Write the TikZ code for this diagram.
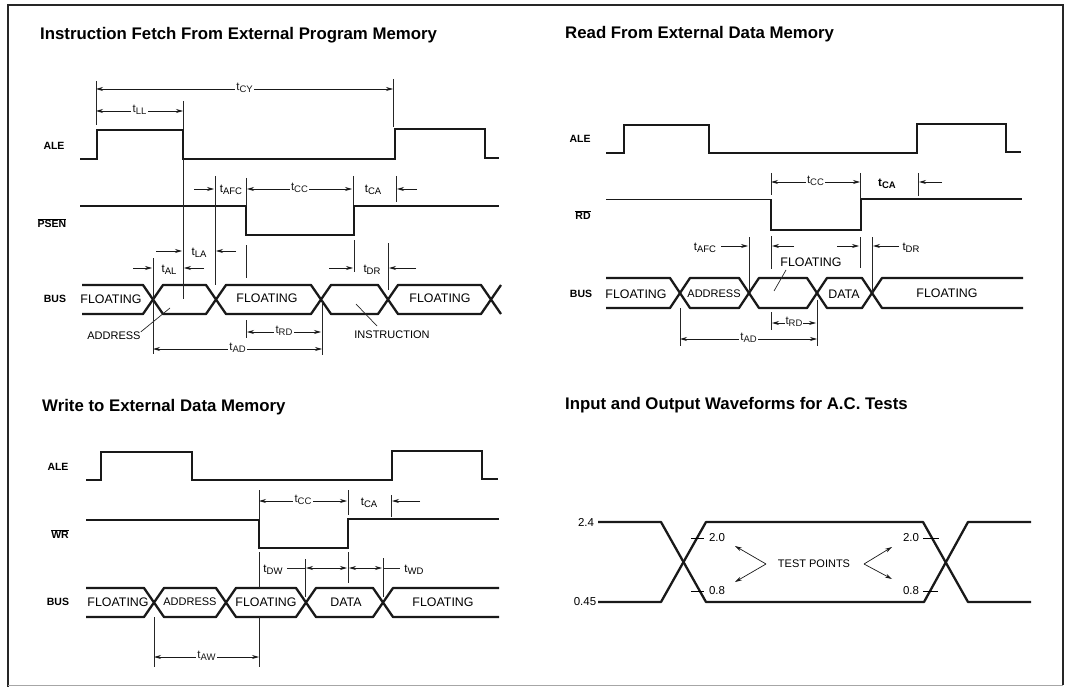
\documentclass[tikz,border=0pt]{standalone}
\usepackage{fontspec}
\setmainfont{Liberation Sans}
\usepackage{xcolor}
\usetikzlibrary{arrows.meta}
\newcommand{\tsub}[1]{t\raisebox{-2.5pt}{\fontsize{9.5}{10}\selectfont #1}}
\newcommand{\barsig}[1]{$\overline{\mbox{#1}}$}

\begin{document}
\begin{tikzpicture}[
    x=1pt, y=-1pt,
    font=\fontsize{11.5}{12}\selectfont,
    >={Stealth[length=7pt,width=4pt]},
    frameline/.style={line width=1.8pt, color=black!85},
    wave/.style={line width=1.9pt, color=black!90},
    buswave/.style={line width=2.3pt, color=black!90, line join=round},
    tick/.style={line width=0.7pt, color=black!85},
    dim/.style={<->, line width=0.7pt, color=black!90},
    stub/.style={->, line width=0.7pt, color=black!90},
    lead/.style={line width=0.7pt, color=black!85},
    title/.style={font=\fontsize{16.8}{18}\selectfont\bfseries, anchor=west, inner sep=0pt},
    signal/.style={font=\fontsize{10.5}{12}\selectfont\bfseries, inner sep=0pt},
    buslabel/.style={font=\fontsize{12.4}{13}\selectfont, inner sep=0pt},
    addrlabel/.style={font=\fontsize{11}{12}\selectfont, inner sep=0pt},
    tlabel/.style={fill=white, inner sep=1.5pt, yshift=1pt},
    tnote/.style={inner sep=0pt}
]
\useasboundingbox (0,0) rectangle (1068,687);

% Frame
\draw[frameline] (8,687) -- (8,5) -- (1063,5) -- (1063,685);
\draw[line width=0.5pt, color=black!35] (8,685) -- (1063,685);

% Titles
\node[title] (titlefetch) at (40,35) {Instruction Fetch From External Program Memory};
\node[title] (titleread) at (565,34) {Read From External Data Memory};
\node[title] (titlewrite) at (42,407) {Write to External Data Memory};
\node[title] (titletests) at (565,405) {Input and Output Waveforms for A.C. Tests};

% Instruction fetch: waveforms
\draw[wave] (80,159) -- (97,159) -- (97,130) -- (183,130) -- (183,159) -- (395,159) -- (395,129) -- (485,129) -- (485,158) -- (499,158);
\draw[wave] (80,206) -- (246,206) -- (246,235) -- (354,235) -- (354,206) -- (499,206);
\draw[buswave] (82,285) -- (143,285) -- (163,314) -- (206,314) -- (226,285) -- (311,285) -- (331,314) -- (378,314) -- (398,285) -- (481,285) -- (501,314);
\draw[buswave] (82,314) -- (143,314) -- (163,285) -- (206,285) -- (226,314) -- (311,314) -- (331,285) -- (378,285) -- (398,314) -- (481,314) -- (501,285);
\node[signal] (alefetch) at (54,146) {ALE};
\node[signal] (psen) at (52,223) {\barsig{PSEN}};
\node[signal] (busfetch) at (55,299) {BUS};
\node[buslabel] (floatfetcha) at (111,299) {FLOATING};
\node[buslabel] (floatfetchb) at (267,298) {FLOATING};
\node[buslabel] (floatfetchc) at (440,298) {FLOATING};
\node[addrlabel] (addrfetch) at (114,336) {ADDRESS};
\node[addrlabel] (instr) at (392,335) {INSTRUCTION};
\coordinate (addrend) at (170,308);
\coordinate (instrend) at (356,304);
\draw[lead] (addrfetch.north east) -- (addrend);
\draw[lead] (377,326) -- (instrend);

% Instruction fetch: timing marks
\draw[tick] (96,81) -- (96,125);
\draw[tick] (393,79) -- (393,127);
\draw[tick] (183,101) -- (183,129);
\draw[tick] (183,159) -- (183,299);
\draw[tick] (215,176) -- (215,285);
\draw[tick] (246,178) -- (246,206);
\draw[tick] (246,245) -- (246,278);
\draw[tick] (246,320) -- (246,338);
\draw[tick] (353,176) -- (353,205);
\draw[tick] (354,240) -- (354,272);
\draw[tick] (396,176) -- (396,202);
\draw[tick] (388,243) -- (388,290);
\draw[tick] (153,258) -- (153,354);
\draw[tick] (322,300) -- (322,355);
\draw[dim] (96,89) -- node[tlabel] (tcyfetch) {\tsub{CY}} (393,89);
\draw[dim] (96,111) -- node[tlabel] (tllfetch) {\tsub{LL}} (183,111);
\draw[stub] (194,189) -- (214,189);
\node[tnote] (tafcfetch) at (231,190) {\tsub{AFC}};
\draw[dim] (247,189) -- node[tlabel] (tccfetch) {\tsub{CC}} (352,189);
\node[tnote] (tcafetch) at (373,190) {\tsub{CA}};
\draw[stub] (417,189) -- (397,189);
\draw[stub] (156,251) -- (182,251);
\node[tnote] (tlafetch) at (199,253) {\tsub{LA}};
\draw[stub] (236,251) -- (216,251);
\draw[stub] (133,268) -- (152,268);
\node[tnote] (talfetch) at (169,270) {\tsub{AL}};
\draw[stub] (204,268) -- (184,268);
\draw[stub] (329,268) -- (353,268);
\node[tnote] (tdrfetch) at (372,270) {\tsub{DR}};
\draw[stub] (416,268) -- (389,268);
\draw[dim] (247,332) -- node[tlabel] (trdfetch) {\tsub{RD}} (321,332);
\draw[dim] (153,349) -- node[tlabel, pos=0.5] (tadfetch) {\tsub{AD}} (322,349);

% Read: waveforms
\draw[wave] (606,153) -- (624,153) -- (624,125) -- (709,125) -- (709,153) -- (917,153) -- (917,124) -- (1006,124) -- (1006,152) -- (1021,152);
\draw[wave] (606,199.5) -- (771,199.5) -- (771,230) -- (861,230) -- (861,199) -- (1022,199);
\draw[buswave] (606,278) -- (670,278) -- (690,308) -- (739,308) -- (759,278) -- (807,278) -- (827,308) -- (862,308) -- (882,278) -- (1023,278);
\draw[buswave] (606,308) -- (670,308) -- (690,278) -- (739,278) -- (759,308) -- (807,308) -- (827,278) -- (862,278) -- (882,308) -- (1023,308);
\node[signal] (aleread) at (580,139) {ALE};
\node[signal] (rd) at (583,215) {\barsig{RD}};
\node[signal] (busread) at (581,294) {BUS};
\node[buslabel] (floatreada) at (636,294) {FLOATING};
\node[addrlabel] (addrread) at (714,294) {ADDRESS};
\node[buslabel] (dataread) at (844,294) {DATA};
\node[buslabel] (floatreadb) at (947,293) {FLOATING};
\node[buslabel] (floatreadc) at (811,262) {FLOATING};
\coordinate (floatend) at (774,291);
\draw[lead] (786,270) -- (floatend);

% Read: timing marks
\draw[tick] (771,173) -- (771,195);
\draw[tick] (860,173) -- (860,199);
\draw[tick] (918,173) -- (918,196);
\draw[tick] (749,237) -- (749,290);
\draw[tick] (771,236) -- (771,269);
\draw[tick] (860,237) -- (860,268);
\draw[tick] (872,237) -- (872,293);
\draw[tick] (771,312) -- (771,330);
\draw[tick] (817,300) -- (817,346);
\draw[tick] (680,308) -- (680,346);
\draw[dim] (771,182) -- node[tlabel] (tccread) {\tsub{CC}} (860,182);
\node[tnote, font=\fontsize{11.5}{12}\selectfont\bfseries] (tcaread) at (887,184) {\tsub{CA}};
\draw[stub] (942,182) -- (919,182);
\node[tnote] (tafcread) at (705,248) {\tsub{AFC}};
\draw[stub] (721,246) -- (748,246);
\draw[stub] (794,246) -- (772,246);
\draw[stub] (837,246) -- (859,246);
\draw[stub] (899,246) -- (873,246);
\node[tnote] (tdrread) at (911,248) {\tsub{DR}};
\draw[dim] (772,323) -- node[tlabel, inner sep=0.5pt] (trdread) {\tsub{RD}} (816,323);
\draw[dim] (680,339) -- node[tlabel] (tadread) {\tsub{AD}} (817,339);

% Write: waveforms
\draw[wave] (86,480) -- (101,480) -- (101,452) -- (192,452) -- (192,480) -- (392,480) -- (392,451) -- (482,451) -- (482,479) -- (498,479);
\draw[wave] (86,520) -- (259,520) -- (259,548) -- (348,548) -- (348,519) -- (499,519);
\draw[buswave] (86,588) -- (144,588) -- (164,617) -- (216,617) -- (236,588) -- (296,588) -- (316,617) -- (373,617) -- (393,588) -- (499,588);
\draw[buswave] (86,617) -- (144,617) -- (164,588) -- (216,588) -- (236,617) -- (296,617) -- (316,588) -- (373,588) -- (393,617) -- (499,617);
\node[signal] (alewrite) at (58,467) {ALE};
\node[signal] (wr) at (60,534) {\barsig{WR}};
\node[signal] (buswrite) at (58,602) {BUS};
\node[buslabel] (floatwritea) at (118,602) {FLOATING};
\node[addrlabel] (addrwrite) at (190,602) {ADDRESS};
\node[buslabel] (floatwriteb) at (266,602) {FLOATING};
\node[buslabel] (datawrite) at (346,602) {DATA};
\node[buslabel] (floatwritec) at (443,602) {FLOATING};

% Write: timing marks
\draw[tick] (259,490) -- (259,520);
\draw[tick] (348,490) -- (348,515);
\draw[tick] (391,495) -- (391,517);
\draw[tick] (259,552) -- (259,588);
\draw[tick] (259,617) -- (259,667);
\draw[tick] (305,559) -- (305,597);
\draw[tick] (348,552) -- (348,583);
\draw[tick] (383,558) -- (383,597);
\draw[tick] (154,617) -- (154,667);
\draw[dim] (259,501) -- node[tlabel] (tccwrite) {\tsub{CC}} (347,501);
\node[tnote] (tcawrite) at (369,503) {\tsub{CA}};
\draw[stub] (420,501) -- (392,501);
\node[tnote] (tdwwrite) at (273,570) {\tsub{DW}};
\draw[lead] (287,568) -- (305,568);
\draw[dim] (306,568) -- (347,568);
\draw[dim] (349,568) -- (382,568);
\draw[lead] (383,568) -- (400,568);
\node[tnote] (twdwrite) at (414,570) {\tsub{WD}};
\draw[dim] (154,657) -- node[tlabel] (tawwrite) {\tsub{AW}} (259,657);

% A.C. tests
\draw[buswave] (598,522) -- (661,522) -- (706,602) -- (924,602) -- (968,522) -- (1031,522);
\draw[buswave] (598,602) -- (661,602) -- (706,522) -- (923,522) -- (968,602) -- (1031,602);
\draw[line width=1pt] (691,538) -- (704,538);
\draw[line width=1pt] (691,591) -- (704,591);
\draw[line width=1pt] (923,538) -- (939,538);
\draw[line width=1pt] (923,591) -- (938,591);
\node[tnote] (hilevel) at (586,522) {2.4};
\node[tnote] (lolevel) at (585,602) {0.45};
\node[tnote] (vihleft) at (717,538) {2.0};
\node[tnote] (vilLeft) at (717,591) {0.8};
\node[tnote] (vihright) at (911,538) {2.0};
\node[tnote] (vilright) at (911,591) {0.8};
\node[addrlabel] (testpoints) at (814,564) {TEST POINTS};
\coordinate (leftvertex) at (766,564);
\coordinate (rightvertex) at (864,564);
\draw[stub] (leftvertex) -- (735,546);
\draw[stub] (leftvertex) -- (735,582);
\draw[stub] (rightvertex) -- (892,547);
\draw[stub] (rightvertex) -- (892,579);

\end{tikzpicture}
\end{document}
